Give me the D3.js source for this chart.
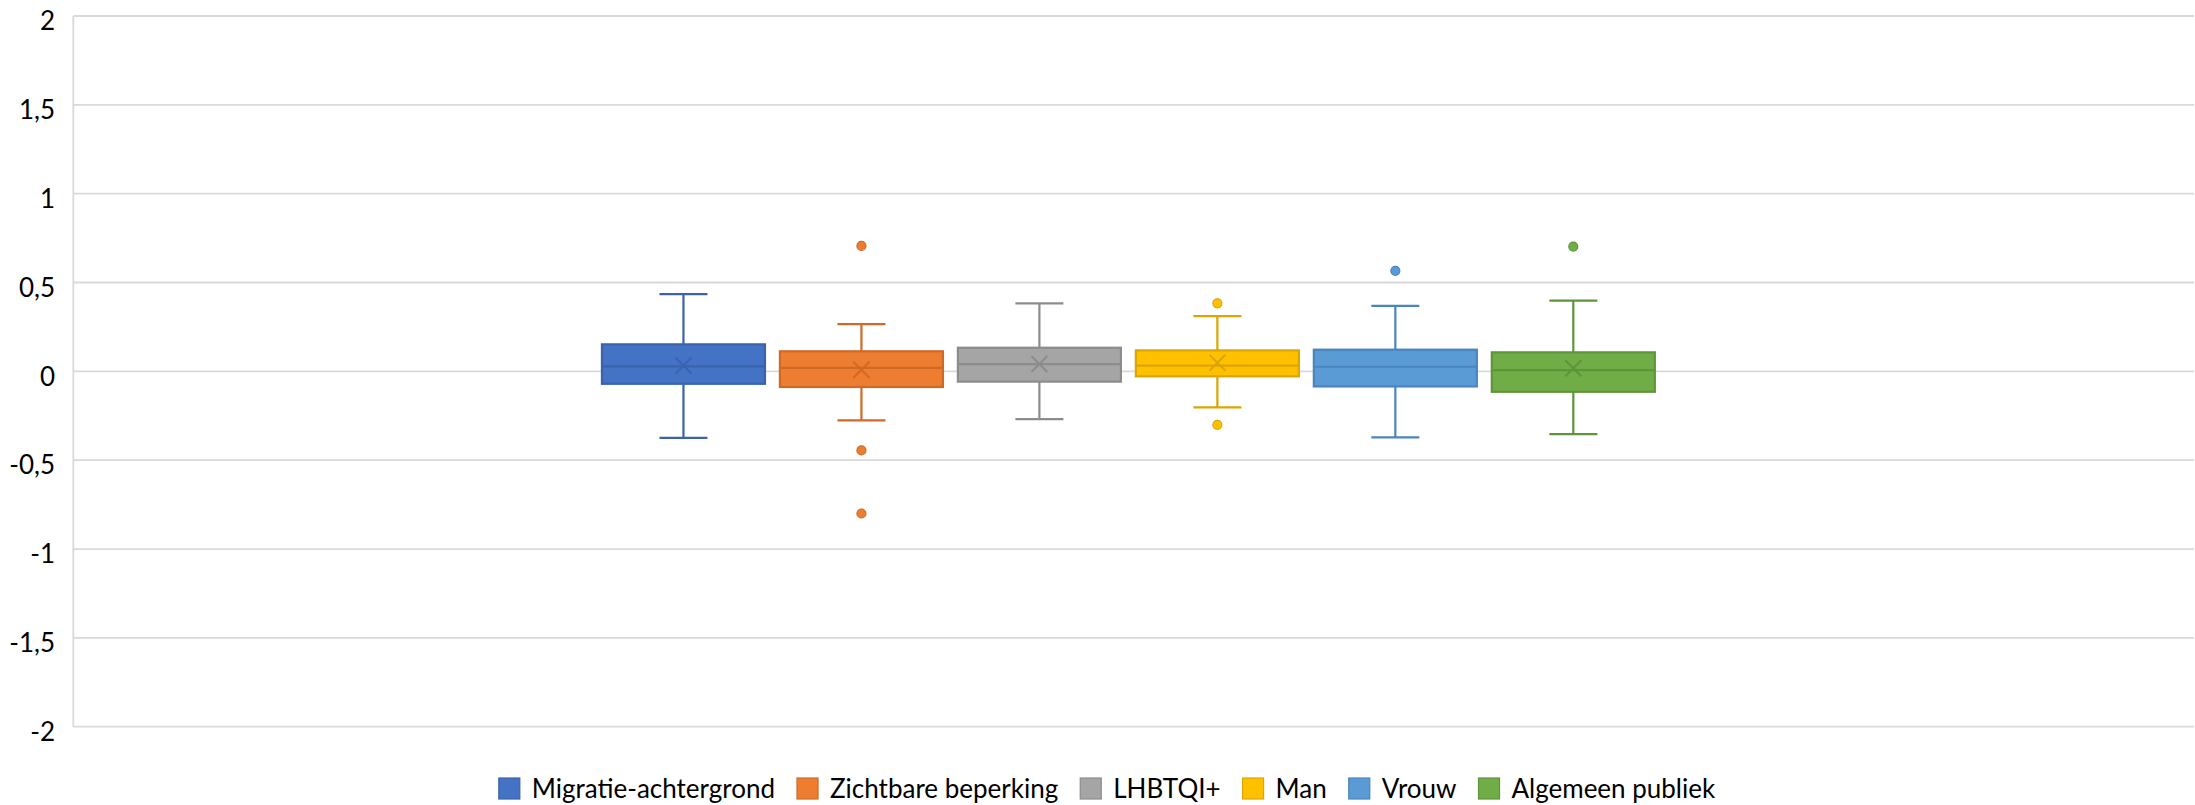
<!DOCTYPE html>
<html>
<head>
<meta charset="utf-8">
<script src="https://cdn.jsdelivr.net/npm/d3@7"></script>
<style>
  html, body { margin: 0; padding: 0; background: #fff; }
  svg { display: block; }
  text { font-family: Lato, "Open Sans", sans-serif; fill: #000; }
</style>
</head>
<body>
<svg id="chart" width="2195" height="805"></svg>
<script>
// ---- data ----
const series = ["Migratie-achtergrond", "Zichtbare beperking", "LHBTQI+", "Man", "Vrouw", "Algemeen publiek"];
const minVals    = [-0.374, -0.276, -0.269, -0.203, -0.372, -0.353];
const q1Vals     = [-0.070, -0.088, -0.058, -0.028, -0.085, -0.115];
const medianVals = [ 0.028,  0.020,  0.041,  0.032,  0.026,  0.007];
const q3Vals     = [ 0.152,  0.113,  0.133,  0.118,  0.122,  0.107];
const maxVals    = [ 0.435,  0.266,  0.383,  0.311,  0.368,  0.398];
const meanVals   = [ 0.032,  0.009,  0.041,  0.048,  null,   0.017];
const outliers   = [[], [0.706, -0.445, -0.800], [], [0.383, -0.301], [0.566], [0.702]];
const yTicks = [-2, -1.5, -1, -0.5, 0, 0.5, 1, 1.5, 2];

const fills   = ["#4472C4", "#ED7D31", "#A5A5A5", "#FFC000", "#5B9BD5", "#70AD47"];
const strokes = ["#3A63AB", "#CF6A26", "#8C8C8C", "#DCA500", "#4A85BD", "#5E9539"];

// ---- layout ----
const svg = d3.select("#chart");
const plotL = 73.3, plotR = 2194, plotT = 16, plotB = 726.7;

const y = d3.scaleLinear().domain([-2, 2]).range([plotB, plotT]);

const xCat = d3.scaleBand().domain(["all"]).range([plotL, plotR])
  .paddingInner(0).paddingOuter(0.493).align(0.495);
const x = d3.scaleBand().domain(series)
  .range([xCat("all"), xCat("all") + xCat.bandwidth()])
  .paddingInner(0.084).paddingOuter(0.042);

// gridlines
svg.append("g").selectAll("line").data(yTicks).join("line")
  .attr("x1", plotL).attr("x2", plotR)
  .attr("y1", d => y(d)).attr("y2", d => y(d))
  .attr("stroke", "#D9D9D9").attr("stroke-width", 1.8);

// vertical axis line
svg.append("line").attr("x1", plotL).attr("x2", plotL)
  .attr("y1", plotT).attr("y2", plotB)
  .attr("stroke", "#D9D9D9").attr("stroke-width", 1.8);

// y axis labels
const fmt = d => String(d).replace(".", ",");
const yAxis = d3.axisLeft(y).tickValues(yTicks).tickFormat(fmt).tickSize(0).tickPadding(0);
const ga = svg.append("g").attr("transform", `translate(${55},0)`).call(yAxis);
ga.select(".domain").remove();
ga.selectAll("text")
  .attr("font-family", "Lato, 'Open Sans', sans-serif")
  .attr("font-size", 26).attr("fill", "#000")
  .attr("dy", "0.72em").attr("y", -5);

// boxes
const bw = x.bandwidth();
const capW = 48;
series.forEach((s, i) => {
  const cx = x(s) + bw / 2;
  const g = svg.append("g");
  // whiskers
  g.append("line").attr("x1", cx).attr("x2", cx)
    .attr("y1", y(maxVals[i])).attr("y2", y(q3Vals[i]))
    .attr("stroke", strokes[i]).attr("stroke-width", 2.2);
  g.append("line").attr("x1", cx).attr("x2", cx)
    .attr("y1", y(q1Vals[i])).attr("y2", y(minVals[i]))
    .attr("stroke", strokes[i]).attr("stroke-width", 2.2);
  [maxVals[i], minVals[i]].forEach(v => {
    g.append("line").attr("x1", cx - capW / 2).attr("x2", cx + capW / 2)
      .attr("y1", y(v)).attr("y2", y(v))
      .attr("stroke", strokes[i]).attr("stroke-width", 2.2);
  });
  // box
  g.append("rect").attr("x", x(s)).attr("width", bw)
    .attr("y", y(q3Vals[i])).attr("height", y(q1Vals[i]) - y(q3Vals[i]))
    .attr("fill", fills[i]).attr("stroke", strokes[i]).attr("stroke-width", 2.2);
  // median
  g.append("line").attr("x1", x(s)).attr("x2", x(s) + bw)
    .attr("y1", y(medianVals[i])).attr("y2", y(medianVals[i]))
    .attr("stroke", strokes[i]).attr("stroke-width", 2.2);
  // mean marker
  if (meanVals[i] !== null) {
    const my = y(meanVals[i]), r = 8;
    g.append("path")
      .attr("d", `M${cx - r},${my - r}L${cx + r},${my + r}M${cx - r},${my + r}L${cx + r},${my - r}`)
      .attr("stroke", strokes[i]).attr("stroke-width", 2).attr("fill", "none");
  }
  // outliers
  g.selectAll("circle").data(outliers[i]).join("circle")
    .attr("cx", cx).attr("cy", d => y(d)).attr("r", 4.5)
    .attr("fill", fills[i]).attr("stroke", strokes[i]).attr("stroke-width", 1.2);
});

// legend
const legend = svg.append("g");
const sw = 21, gapText = 12, gapItem = 22, fs = 26;
let cursor = 0;
series.forEach((s, i) => {
  const gi = legend.append("g");
  gi.append("rect").attr("x", 0).attr("y", -sw + 1).attr("width", sw).attr("height", sw)
    .attr("fill", fills[i]).attr("stroke", strokes[i]).attr("stroke-width", 1.2);
  const t = gi.append("text").attr("x", sw + gapText).attr("y", 0)
    .attr("font-size", fs).text(s);
  const w = t.node().getComputedTextLength();
  gi.attr("transform", `translate(${cursor},0)`);
  cursor += sw + gapText + w + gapItem;
});
const totalW = cursor - gapItem;
legend.attr("transform", `translate(${1107 - totalW / 2},${798})`);
</script>
</body>
</html>
